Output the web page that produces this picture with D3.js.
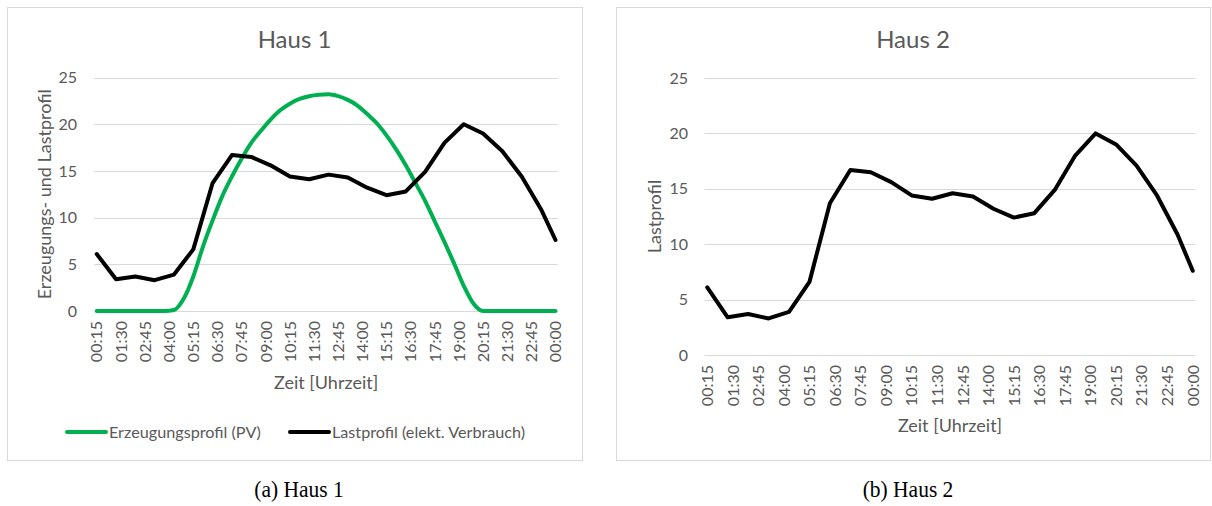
<!DOCTYPE html>
<html>
<head>
<meta charset="utf-8">
<script src="https://cdn.jsdelivr.net/npm/d3@7/dist/d3.min.js"></script>
<style>
  html, body { margin: 0; padding: 0; background: #fff; }
  svg { display: block; }
  text { font-family: Lato, "Open Sans", sans-serif; fill: #595959; }
  .caption { font-family: "Liberation Serif", "DejaVu Serif", serif; fill: #000; }
</style>
</head>
<body>
<svg id="fig" width="1212" height="506"></svg>
<script>
// Quarter-hour time axis: 00:15 ... 23:45, 00:00
const categories = [];
for (let m = 15; m <= 24 * 60; m += 15) {
  const h = Math.floor(m / 60) % 24, mm = m % 60;
  categories.push(String(h).padStart(2, "0") + ":" + String(mm).padStart(2, "0"));
}

// Labelled ticks on the time axis
const tickLabels = ["00:15", "01:30", "02:45", "04:00", "05:15", "06:30", "07:45", "09:00", "10:15", "11:30",
                    "12:45", "14:00", "15:15", "16:30", "17:45", "19:00", "20:15", "21:30", "22:45", "00:00"];

// Value axis ticks
const yTicks = [0, 5, 10, 15, 20, 25];

// Lastprofil (elekt. Verbrauch)
const loadTimes = ["00:15", "01:15", "02:15", "03:15", "04:15", "05:15", "06:15", "07:15", "08:15", "09:15",
                   "10:15", "11:15", "12:15", "13:15", "14:15", "15:15", "16:15", "17:15", "18:15", "19:15",
                   "20:15", "21:15", "22:15", "23:15", "00:00"];
const loadValues = [6.1, 3.4, 3.7, 3.3, 3.9, 6.6, 13.7, 16.7, 16.5, 15.6,
                    14.4, 14.1, 14.6, 14.3, 13.2, 12.4, 12.8, 14.9, 18.0, 20.0,
                    19.0, 17.1, 14.4, 10.9, 7.6];

// Erzeugungsprofil (PV)
const pvTimes = ["00:15", "03:45", "04:15", "04:45", "05:15", "05:45", "06:15", "06:45", "07:15", "07:45",
                 "08:15", "08:45", "09:15", "09:45", "10:15", "10:45", "11:15", "11:45", "12:15", "12:45",
                 "13:15", "13:45", "14:15", "14:45", "15:15", "15:45", "16:15", "16:45", "17:15", "17:45",
                 "18:15", "18:45", "19:15", "19:45", "20:15", "00:00"];
const pvValues = [0, 0, 0.1, 1.3, 3.7, 6.9, 9.7, 12.3, 14.4, 16.3,
                  18.0, 19.3, 20.5, 21.5, 22.2, 22.7, 23.0, 23.15, 23.2, 23.0,
                  22.6, 22.0, 21.1, 20.1, 18.8, 17.3, 15.6, 13.7, 11.8, 9.6,
                  7.4, 5.1, 2.7, 0.8, 0, 0];

const GREEN = "#00b050";
const GRID = "#d9d9d9";

const svg = d3.select("#fig");
svg.append("rect").attr("width", 1212).attr("height", 506).attr("fill", "#fff");

const loadSeries = loadTimes.map((t, i) => ({ t: t, v: loadValues[i] }));
const pvSeries = pvTimes.map((t, i) => ({ t: t, v: pvValues[i] }));

function drawPanel(cfg) {
  const g = svg.append("g");

  // chart frame
  g.append("rect")
    .attr("x", cfg.frame[0] + 0.5).attr("y", cfg.frame[1] + 0.5)
    .attr("width", cfg.frame[2]).attr("height", cfg.frame[3])
    .attr("fill", "#fff").attr("stroke", GRID).attr("stroke-width", 1);

  const x = d3.scaleBand().domain(categories).range([cfg.x0, cfg.x1]).paddingInner(0).paddingOuter(0);
  const xc = t => x(t) + x.bandwidth() / 2;
  const y = d3.scaleLinear().domain([0, 25]).range([cfg.y0, cfg.y1]);

  // horizontal gridlines
  g.append("g").selectAll("line").data(yTicks).join("line")
    .attr("x1", cfg.x0).attr("x2", cfg.x1)
    .attr("y1", d => Math.round(y(d)) + 0.5).attr("y2", d => Math.round(y(d)) + 0.5)
    .attr("stroke", GRID).attr("stroke-width", 1);

  // value axis labels
  const yAxis = d3.axisLeft(y).tickValues(yTicks).tickSize(0).tickPadding(0);
  const ya = g.append("g").attr("transform", `translate(${cfg.yLabelX},0)`).call(yAxis);
  ya.select(".domain").remove();
  ya.selectAll("text").attr("font-size", 16).attr("fill", "#595959")
    .style("font-family", "Lato, sans-serif");

  // time axis labels (vertical)
  const xAxis = d3.axisBottom(x).tickValues(tickLabels).tickSize(0).tickPadding(0);
  const xa = g.append("g").attr("transform", `translate(0,${cfg.y0 + cfg.xLabelGap})`).call(xAxis);
  xa.select(".domain").remove();
  xa.selectAll("text")
    .attr("font-size", 16).attr("fill", "#595959").style("font-family", "Lato, sans-serif")
    .attr("text-anchor", "end")
    .attr("transform", "rotate(-90)")
    .attr("x", 0).attr("y", 0).attr("dy", "0.36em");

  // titles
  g.append("text").attr("x", cfg.titleX).attr("y", cfg.titleY)
    .attr("text-anchor", "middle").attr("font-size", 24).text(cfg.title);
  g.append("text").attr("x", (cfg.x0 + cfg.x1) / 2).attr("y", cfg.xTitleY)
    .attr("text-anchor", "middle").attr("font-size", 18).text("Zeit [Uhrzeit]");
  g.append("text")
    .attr("transform", `translate(${cfg.yTitleX},${(cfg.y0 + cfg.y1) / 2}) rotate(-90)`)
    .attr("text-anchor", "middle").attr("dy", "0.35em").attr("font-size", 18).text(cfg.yTitle);

  if (cfg.showPV) {
    g.append("path").datum(pvSeries)
      .attr("d", d3.line().x(d => xc(d.t)).y(d => y(d.v)).curve(d3.curveMonotoneX))
      .attr("fill", "none").attr("stroke", GREEN).attr("stroke-width", 4)
      .attr("stroke-linejoin", "round").attr("stroke-linecap", "round");
  }
  g.append("path").datum(loadSeries)
    .attr("d", d3.line().x(d => xc(d.t)).y(d => y(d.v)))
    .attr("fill", "none").attr("stroke", "#000").attr("stroke-width", 4)
    .attr("stroke-linejoin", "round").attr("stroke-linecap", "round");

  if (cfg.legend) {
    const L = g.append("g").attr("transform", `translate(0,${cfg.legend.y})`);
    const items = [
      { c: GREEN, label: "Erzeugungsprofil (PV)", x: cfg.legend.x1 },
      { c: "#000", label: "Lastprofil (elekt. Verbrauch)", x: cfg.legend.x2 }
    ];
    items.forEach(it => {
      L.append("line").attr("x1", it.x).attr("x2", it.x + 39).attr("y1", 0).attr("y2", 0)
        .attr("stroke", it.c).attr("stroke-width", 4).attr("stroke-linecap", "round");
      L.append("text").attr("x", it.x + 42).attr("y", 0).attr("dy", "0.35em")
        .attr("font-size", 16.2).text(it.label);
    });
  }
}

drawPanel({
  frame: [7, 7, 575, 453],
  x0: 94.3, x1: 557.9, y0: 311, y1: 77.5,
  yLabelX: 77, xLabelGap: 10,
  title: "Haus 1", titleX: 294.5, titleY: 48,
  xTitleY: 389, yTitle: "Erzeugungs- und Lastprofil", yTitleX: 45,
  showPV: true,
  legend: { y: 432, x1: 67, x2: 290 }
});

drawPanel({
  frame: [616, 7, 594, 453],
  x0: 704.7, x1: 1195.3, y0: 355, y1: 78,
  yLabelX: 688, xLabelGap: 10,
  title: "Haus 2", titleX: 913, titleY: 48,
  xTitleY: 432, yTitle: "Lastprofil", yTitleX: 655,
  showPV: false
});

// sub-figure captions
svg.append("text").attr("class", "caption")
  .attr("transform", "translate(299,497) scale(1,1.1)")
  .attr("text-anchor", "middle").attr("font-size", 21.5).text("(a) Haus 1");
svg.append("text").attr("class", "caption")
  .attr("transform", "translate(908,497) scale(1,1.1)")
  .attr("text-anchor", "middle").attr("font-size", 21.5).text("(b) Haus 2");
</script>
</body>
</html>
